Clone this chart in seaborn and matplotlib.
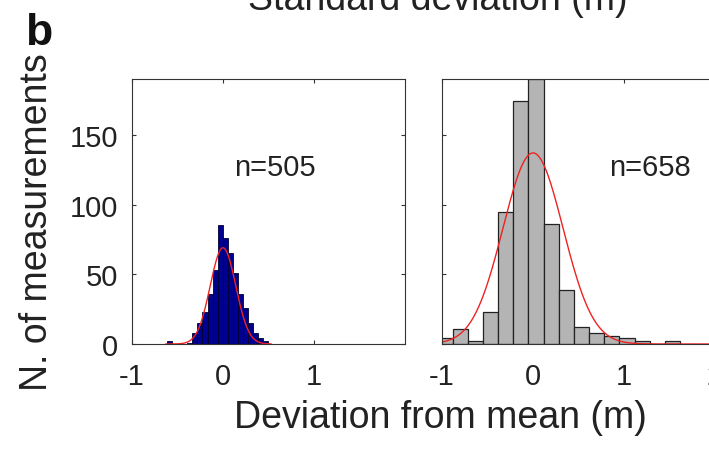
"""
Deviation-from-mean histograms (panel b), two sites, with normal fits.
Writes out.png
"""

import numpy as np
import matplotlib
matplotlib.use("Agg")
import matplotlib.pyplot as plt
import seaborn as sns

# ─── Data ───────────────────────────────────────────────────────
# left site, n=505
left_edges = [-0.615, -0.559, -0.504, -0.448, -0.393, -0.337, -0.282,
              -0.226, -0.170, -0.115, -0.059, -0.004, 0.052, 0.107,
              0.163, 0.219, 0.274, 0.330, 0.385, 0.441, 0.497]
left_counts = [2, 0, 0, 0, 1, 8, 15, 23, 36, 53, 85, 76, 65, 51,
               36, 26, 15, 8, 4, 2]
left_fit_peak, left_fit_mean, left_fit_sd = 69, 0.0, 0.14
left_fit_range = (-0.63, 0.53)

# right site, n=658
right_edges = [-1.050, -0.883, -0.717, -0.550, -0.383, -0.217, -0.050,
               0.117, 0.283, 0.450, 0.617, 0.783, 0.950, 1.117, 1.283,
               1.450, 1.617]
right_counts = [4, 11, 2, 23, 95, 174, 190, 86, 39, 12, 8, 6, 4, 2, 0, 2]
right_fit_peak, right_fit_mean, right_fit_sd = 137, 0.0, 0.33
right_fit_range = (-1.0, 2.0)

n_labels = ["n=505", "n=658"]
left_xticks = [-1, 0, 1]
right_xticks = [-1, 0, 1, 2]
yticks = [0, 50, 100, 150]

# ─── Style ───────────────────────────────────────────────────────
sns.set_theme(style="white")
plt.rcParams["font.family"] = ["Liberation Sans", "DejaVu Sans"]
plt.rcParams["axes.edgecolor"] = "#333333"
plt.rcParams["axes.linewidth"] = 0.8
plt.rcParams["axes.unicode_minus"] = False

W, H = 709, 456
fig = plt.figure(figsize=(W / 100, H / 100), dpi=100)
fig.patch.set_facecolor("white")

ax1 = fig.add_axes([132 / W, 111 / H, 273 / W, 265 / H])
ax2 = fig.add_axes([442 / W, 111 / H, 273 / W, 265 / H])


def centers(edges):
    e = np.asarray(edges)
    return (e[:-1] + e[1:]) / 2


def normal_fit(peak, mean, sd, rng):
    x = np.linspace(rng[0], rng[1], 300)
    return x, peak * np.exp(-0.5 * ((x - mean) / sd) ** 2)


sns.histplot(x=centers(left_edges), weights=left_counts, bins=left_edges,
             ax=ax1, color="#000090", edgecolor="#000030", linewidth=0.6,
             alpha=1)
fx, fy = normal_fit(left_fit_peak, left_fit_mean, left_fit_sd, left_fit_range)
sns.lineplot(x=fx, y=fy, ax=ax1, color="#ee2222", linewidth=1.0)

sns.histplot(x=centers(right_edges), weights=right_counts, bins=right_edges,
             ax=ax2, color="#b4b4b4", edgecolor="#222222", linewidth=0.9,
             alpha=1)
fx, fy = normal_fit(right_fit_peak, right_fit_mean, right_fit_sd, right_fit_range)
sns.lineplot(x=fx, y=fy, ax=ax2, color="#ee2222", linewidth=1.0)

for ax, ticks, label, lx in [(ax1, left_xticks, n_labels[0], 0.57),
                             (ax2, right_xticks, n_labels[1], 1.28)]:
    ax.set_xlim(-1, 2)
    ax.set_ylim(0, 190)
    ax.set_xticks(ticks)
    ax.set_yticks(yticks)
    ax.set_xlabel("")
    ax.set_ylabel("")
    ax.tick_params(direction="in", length=3, width=0.8, colors="#333333",
                   top=True, right=True, bottom=True, left=True)
    ax.tick_params(axis="x", labelsize=21, pad=13, labelcolor="#222222")
    ax.tick_params(axis="y", labelsize=21, pad=10, labelcolor="#222222")
    ax.text(lx, 127, label, ha="center", va="center", fontsize=21,
            color="#222222")

ax2.set_yticklabels([])

fig.text(37 / W, 1 - 222 / H, "N. of measurements", rotation=90,
         ha="center", va="center", fontsize=27, color="#222222")
fig.text(440 / W, 1 - 418 / H, "Deviation from mean (m)",
         ha="center", va="center", fontsize=27, color="#222222")
# panel title sits mostly above the crop, only its lower part shows
fig.text(438 / W, 1 - 10 / H, "Standard deviation (m)",
         ha="center", va="baseline", fontsize=27, color="#222222")
fig.text(25 / W, 1 - 13 / H, "b", ha="left", va="top", fontsize=32,
         fontweight="bold", color="#111111")

fig.savefig("out.png", dpi=100)
